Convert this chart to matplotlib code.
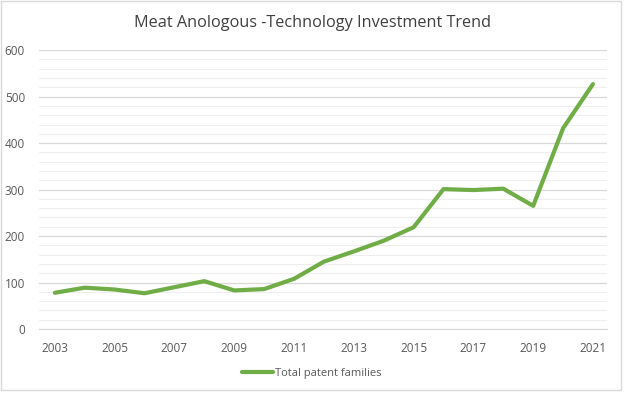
import numpy as np
import matplotlib
matplotlib.use("Agg")
import matplotlib.pyplot as plt
from matplotlib.patches import Rectangle
from matplotlib.ticker import MultipleLocator

plt.rcParams['font.family'] = ['Open Sans', 'DejaVu Sans']

# --- DATA ---
years = [2003, 2004, 2005, 2006, 2007, 2008, 2009, 2010, 2011, 2012,
         2013, 2014, 2015, 2016, 2017, 2018, 2019, 2020, 2021]
patent_families = [78, 89, 85, 77, 90, 103, 83, 86, 108, 145,
                   167, 190, 219, 301, 299, 302, 265, 432, 527]
tick_years = list(range(2003, 2022, 2))

# --- PLOT ---
fig = plt.figure(figsize=(6.24, 3.95), dpi=100)
ax = fig.add_axes([0.0625, 0.167, 0.9103, 0.706])

green = '#70AD47'
text_grey = '#595959'

ax.plot(years, patent_families, color=green, linewidth=3, label='Total patent families',
        solid_joinstyle='round', solid_capstyle='round', zorder=3)

ax.set_xlim(2002.47, 2021.47)
ax.set_ylim(0, 600)
ax.set_xticks(tick_years)
ax.yaxis.set_major_locator(MultipleLocator(100))
ax.yaxis.set_minor_locator(MultipleLocator(20))
ax.grid(axis='y', which='major', color='#D9D9D9', linewidth=0.9)
ax.grid(axis='y', which='minor', color='#EFEFEF', linewidth=0.8)
ax.set_axisbelow(True)

for s in ['top', 'right', 'left']:
    ax.spines[s].set_visible(False)
ax.spines['bottom'].set_color('#D9D9D9')
ax.tick_params(axis='both', which='both', length=0, labelsize=8.5, labelcolor=text_grey)
ax.tick_params(axis='y', pad=10)
ax.tick_params(axis='x', pad=9)

fig.text(0.5, 0.942, 'Meat Anologous -Technology Investment Trend',
         ha='center', va='center', fontsize=11.7, color='#404040')

fig.legend(loc='center', bbox_to_anchor=(0.5, 0.055), frameon=False,
           fontsize=8, labelcolor=text_grey, handlelength=2.8, handletextpad=0.2)

# light border around the chart area
fig.patches.append(Rectangle((0.002, 0.012), 0.993, 0.985, transform=fig.transFigure,
                             fill=False, edgecolor='#D9D9D9', linewidth=1))

fig.savefig('out.png', dpi=100)
